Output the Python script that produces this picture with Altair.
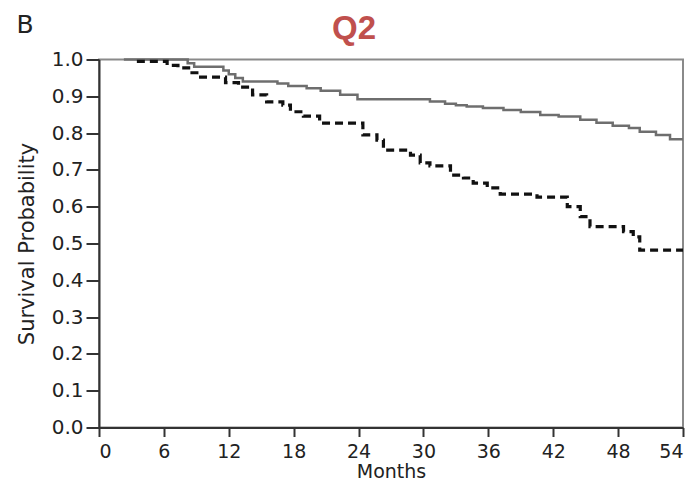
import altair as alt
import pandas as pd

# Kaplan-Meier style curves
solid_months = [2.3, 8.2, 8.8, 11.5, 12.0, 12.6, 13.3, 16.5, 17.5, 19.2, 20.5, 22.3, 23.9,
                30.6, 32.0, 33.0, 34.0, 35.5, 37.4, 39.0, 40.8, 42.5, 44.5, 46.0, 47.5,
                49.0, 50.0, 51.5, 52.8, 54.0]
solid_surv = [1.0, 0.99, 0.98, 0.97, 0.96, 0.95, 0.94, 0.935, 0.928, 0.922, 0.915, 0.904, 0.892,
              0.886, 0.880, 0.876, 0.872, 0.868, 0.863, 0.857, 0.849, 0.845, 0.836, 0.828, 0.820,
              0.814, 0.804, 0.795, 0.783, 0.783]

dashed_months = [3.5, 6.3, 7.3, 8.6, 9.2, 11.7, 12.9, 14.2, 15.5, 17.0, 17.7, 18.9, 20.4,
                 24.4, 25.7, 26.3, 28.8, 29.7, 30.6, 32.5, 33.7, 34.6, 35.9, 37.1, 40.5,
                 43.3, 44.5, 45.4, 48.5, 49.4, 50.0, 54.0]
dashed_surv = [0.995, 0.984, 0.977, 0.964, 0.952, 0.937, 0.925, 0.904, 0.885, 0.876, 0.858, 0.846, 0.827,
               0.795, 0.781, 0.754, 0.740, 0.719, 0.711, 0.686, 0.678, 0.664, 0.651, 0.634, 0.626,
               0.600, 0.573, 0.546, 0.532, 0.518, 0.482, 0.482]

x_ticks = [0, 6, 12, 18, 24, 30, 36, 42, 48, 54]
y_ticks = [0.0, 0.1, 0.2, 0.3, 0.4, 0.5, 0.6, 0.7, 0.8, 0.9, 1.0]

df = pd.concat([
    pd.DataFrame({"Months": solid_months, "Survival": solid_surv, "group": "solid"}),
    pd.DataFrame({"Months": dashed_months, "Survival": dashed_surv, "group": "dashed"}),
])

FONT = "DejaVu Sans"

x = alt.X("Months:Q",
          scale=alt.Scale(domain=[0, 54], nice=False, zero=False),
          axis=alt.Axis(values=x_ticks, title="Months", grid=False, tickSize=9,
                        labelPadding=6, titlePadding=1, labelFontSize=19, titleFontSize=19,
                        labelFont=FONT, titleFont=FONT, titleFontWeight="normal",
                        domainColor="#333", domainWidth=2, tickColor="#333", tickWidth=2,
                        labelColor="#222", titleColor="#222"))
y = alt.Y("Survival:Q",
          scale=alt.Scale(domain=[0, 1], nice=False),
          axis=alt.Axis(values=y_ticks, format=".1f", title="Survival Probability", grid=False,
                        tickSize=13, labelPadding=3, titlePadding=14, labelFontSize=20,
                        titleFontSize=21, labelFont=FONT, titleFont=FONT,
                        titleFontWeight="normal", domainColor="#333", domainWidth=2,
                        tickColor="#333", tickWidth=2, labelColor="#222", titleColor="#222"))

lines = alt.Chart(df).mark_line(interpolate="step-after").encode(
    x=x, y=y,
    color=alt.Color("group:N", scale=alt.Scale(domain=["solid", "dashed"],
                                               range=["#6e6e6e", "#111111"]), legend=None),
    strokeDash=alt.StrokeDash("group:N", scale=alt.Scale(domain=["solid", "dashed"],
                                                         range=[[1, 0], [8, 5]]), legend=None),
    strokeWidth=alt.StrokeWidth("group:N", scale=alt.Scale(domain=["solid", "dashed"],
                                                           range=[2.5, 3.2]), legend=None),
)

label_df = pd.DataFrame({"t": ["B"]})
b_text = alt.Chart(label_df).mark_text(font=FONT, fontSize=25, color="#222",
                                       align="center", baseline="middle").encode(
    text="t:N", x=alt.value(-74), y=alt.value(-35))

q_df = pd.DataFrame({"t": ["Q2"]})
q_text = alt.Chart(q_df).mark_text(font="Liberation Sans", fontSize=33, fontWeight="bold",
                                   color="#c0504d", align="center", baseline="middle").encode(
    text="t:N", x=alt.value(255), y=alt.value(-31))

chart = alt.layer(lines, b_text, q_text).properties(
    width=584, height=368,
    padding={"left": 91, "top": 51.5, "right": 7, "bottom": 56.5},
    autosize=alt.AutoSizeParams(type="none"),
).configure_view(stroke="#8a8a8a", strokeWidth=2)

chart.save("out.html", embed_options={"renderer": "svg", "actions": False})
